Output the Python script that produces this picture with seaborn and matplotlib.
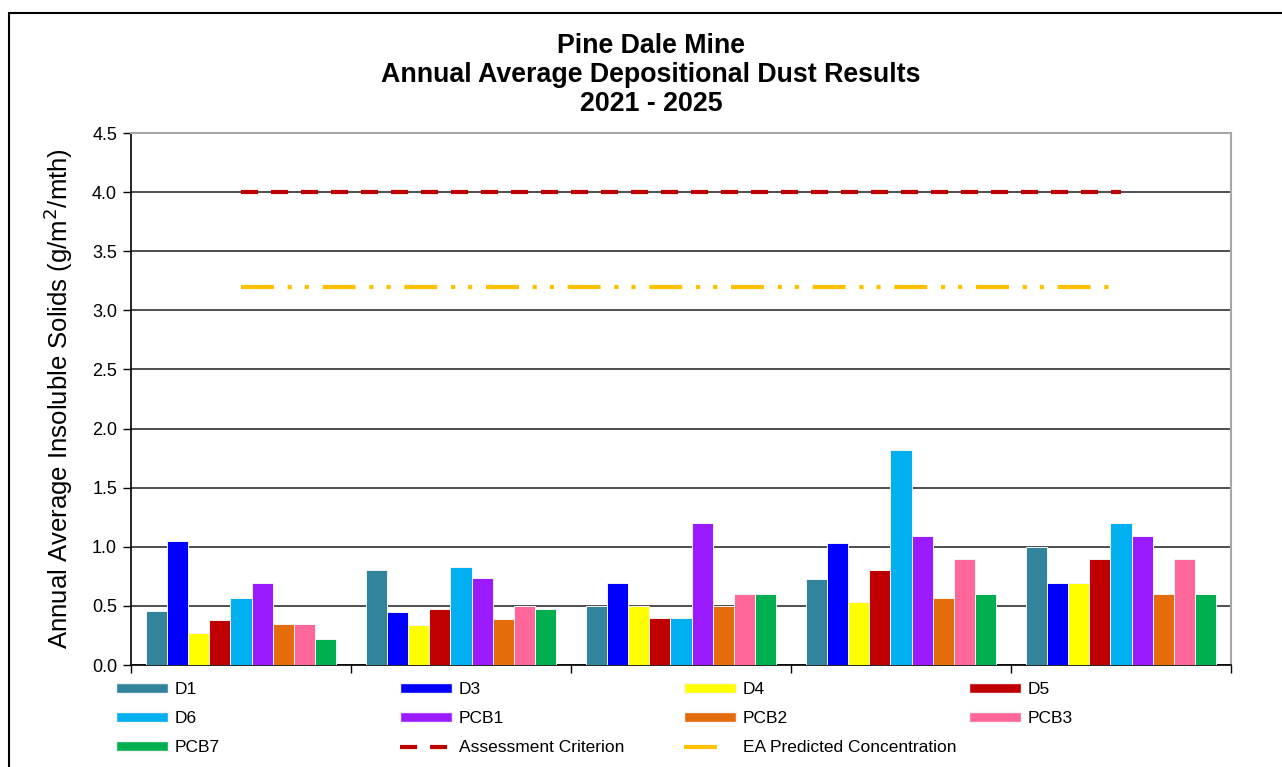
import numpy as np
import pandas as pd
import matplotlib
matplotlib.use("Agg")
import matplotlib.pyplot as plt
import seaborn as sns
from matplotlib.patches import Patch, Rectangle
from matplotlib.lines import Line2D

# values
years = ["2021", "2022", "2023", "2024", "2025"]
sites = ["D1", "D3", "D4", "D5", "D6", "PCB1", "PCB2", "PCB3", "PCB7"]
d1 = [0.46, 0.80, 0.50, 0.73, 1.00]
d3 = [1.05, 0.45, 0.69, 1.03, 0.69]
d4 = [0.27, 0.34, 0.50, 0.53, 0.69]
d5 = [0.38, 0.47, 0.40, 0.80, 0.90]
d6 = [0.57, 0.83, 0.40, 1.82, 1.20]
pcb1 = [0.69, 0.74, 1.20, 1.09, 1.09]
pcb2 = [0.35, 0.39, 0.50, 0.57, 0.60]
pcb3 = [0.35, 0.50, 0.60, 0.90, 0.90]
pcb7 = [0.22, 0.47, 0.60, 0.60, 0.60]
assessment = [4.0, 4.0, 4.0, 4.0, 4.0]
ea_predicted = [3.2, 3.2, 3.2, 3.2, 3.2]

colors = ["#31849B", "#0000FF", "#FFFF00", "#C00000", "#00B0F0",
          "#9B1BFF", "#E46C0A", "#FF6699", "#00B050"]

series = [d1, d3, d4, d5, d6, pcb1, pcb2, pcb3, pcb7]
df = pd.DataFrame({
    "year": np.tile(years, len(sites)),
    "site": np.repeat(sites, len(years)),
    "value": np.concatenate(series),
})

sns.set_style("white")
plt.rcParams["font.family"] = ["Liberation Sans", "DejaVu Sans"]
plt.rcParams.update({"text.color": "black", "axes.labelcolor": "black",
                     "xtick.color": "black", "ytick.color": "black"})

fig = plt.figure(figsize=(12.82, 7.67), dpi=100)
ax = fig.add_axes([131 / 1282, 1 - 665 / 767, 1100 / 1282, 532 / 767])

sns.barplot(data=df, x="year", y="value", hue="site", order=years,
            hue_order=sites, palette=dict(zip(sites, colors)), saturation=1,
            width=0.86, gap=0, edgecolor="#f4f4f4", linewidth=0.7,
            legend=False, ax=ax, zorder=3)

x = np.arange(len(years))
ax.plot(x, assessment, color="#C00000", lw=3, dashes=(4.1, 3.1),
        dash_capstyle="butt", zorder=4)
ax.plot(x, ea_predicted, color="#FFC000", lw=3,
        dashes=(7.9, 3.3, 1.0, 3.1, 1.0, 3.3), dash_capstyle="butt", zorder=4)

ax.set_ylim(0, 4.5)
ax.set_yticks(np.arange(0, 4.51, 0.5))
ax.set_yticklabels([f"{v:.1f}" for v in np.arange(0, 4.51, 0.5)], fontsize=13)
ax.set_xlim(-0.5, len(years) - 0.5)
ax.set_xticks(np.arange(-0.5, len(years), 1.0))
ax.set_xticklabels([])
ax.set_xlabel("")
ax.set_ylabel("Annual Average Insoluble Solids (g/m$^2$/mth)", fontsize=18.5,
              labelpad=12)
ax.grid(axis="y", color="#404040", lw=1.3, zorder=0)
ax.tick_params(axis="both", direction="out", length=6, width=1,
               color="black", left=True, bottom=True)
ax.tick_params(axis="y", pad=4)
for s in ["left", "bottom"]:
    ax.spines[s].set_color("black")
    ax.spines[s].set_linewidth(1.2)
for s in ["top", "right"]:
    ax.spines[s].set_color("#A6A6A6")
    ax.spines[s].set_linewidth(1.5)

fig.text(651 / 1282, 1 - 75 / 767,
         "Pine Dale Mine\nAnnual Average Depositional Dust Results\n2021 - 2025",
         ha="center", va="center", fontsize=19.3, fontweight="bold",
         linespacing=1.17)

# outer chart frame
fig.patches.append(Rectangle((9 / 1282, -0.1), 1.2, 1 - 13 / 767 + 0.1,
                             transform=fig.transFigure, fill=False,
                             edgecolor="black", lw=1.5))

# legend, laid out column by column like the original
handles = [Patch(facecolor=c, edgecolor="#f4f4f4") for c in colors]
handles.append(Line2D([], [], color="#C00000", lw=3, dashes=(4.1, 3.1),
                      dash_capstyle="butt"))
handles.append(Line2D([], [], color="#FFC000", lw=3, dashes=(7.9, 20),
                      dash_capstyle="butt"))
labels = sites + ["Assessment Criterion", "EA Predicted Concentration"]
col_x = [116, 400, 684, 969]
for c in range(4):
    idx = list(range(c, len(labels), 4))
    fig.legend([handles[i] for i in idx], [labels[i] for i in idx],
               loc="upper left", bbox_to_anchor=(col_x[c] / 1282, 1 - 682 / 767),
               frameon=False, fontsize=12.5, borderpad=0, borderaxespad=0,
               handlelength=3.0, handleheight=0.5, handletextpad=0.4,
               labelspacing=0.82)

fig.savefig("out.png", dpi=100, facecolor="white")
